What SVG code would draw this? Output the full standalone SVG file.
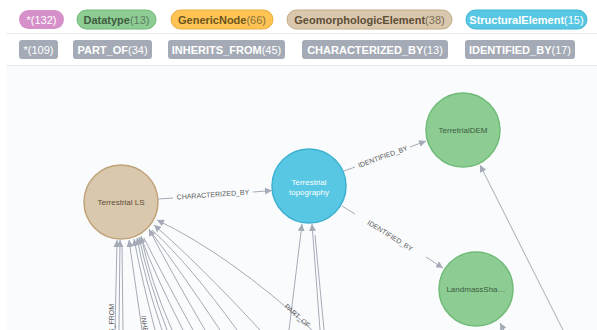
<svg xmlns="http://www.w3.org/2000/svg" width="597" height="330" viewBox="0 0 597 330">
  <defs>
    <marker id="arrow" viewBox="0 0 10 10" refX="10" refY="5" markerWidth="7" markerHeight="7" markerUnits="userSpaceOnUse" orient="auto">
      <path d="M0,0 L10,5 L0,10 z" fill="#a5abb6"/>
    </marker>
    <style>
      .pill-text { font-family: "Liberation Sans", Arial, sans-serif; font-size: 11px; font-weight: bold; }
      .count { font-weight: normal; }
      .rel { fill: #a5abb6; }
      .rel-text { font-family: "Liberation Sans", Arial, sans-serif; font-size: 11px; font-weight: bold; fill: #ffffff; }
      .edge { fill: none; stroke: #a5abb6; stroke-width: 1; }
      .edge-arrow { fill: none; stroke: #a5abb6; stroke-width: 1; marker-end: url(#arrow); }
      .edge-label { font-family: "Liberation Sans", Arial, sans-serif; font-size: 7px; fill: #5a5a5a; }
      .node-label { font-family: "Liberation Sans", Arial, sans-serif; font-size: 8px; text-anchor: middle; }
      .sep { stroke: #e8eaee; stroke-width: 1; }
    </style>
  </defs>

  <!-- page and canvas backgrounds -->
  <rect x="0" y="0" width="597" height="330" fill="#ffffff"/>
  <rect x="6" y="66" width="591" height="264" fill="#f9fbfd"/>
  <line class="sep" x1="6" y1="33.5" x2="597" y2="33.5"/>
  <line class="sep" x1="6" y1="65.5" x2="597" y2="65.5"/>

  <!-- node label legend -->
  <g id="legend-labels">
    <rect x="19" y="10" width="45" height="19" rx="9.5" fill="#d58fc9"/>
    <text class="pill-text" x="41.5" y="23.5" text-anchor="middle" fill="#ffffff"><tspan class="count">*(132)</tspan></text>

    <rect x="77" y="10" width="79" height="19" rx="9.5" fill="#8dcc93" stroke="#6fbb77"/>
    <text class="pill-text" x="116.5" y="23.5" text-anchor="middle" fill="#3d5c40">Datatype<tspan class="count" fill="#5f7d62">(13)</tspan></text>

    <rect x="171" y="10" width="102" height="19" rx="9.5" fill="#ffc454" stroke="#e8ad3f"/>
    <text class="pill-text" x="222" y="23.5" text-anchor="middle" fill="#6b5420">GenericNode<tspan class="count" fill="#86703c">(66)</tspan></text>

    <rect x="287" y="10" width="165" height="19" rx="9.5" fill="#d9c8ae" stroke="#c4ab87"/>
    <text class="pill-text" x="369.5" y="23.5" text-anchor="middle" fill="#5e4e36">GeomorphologicElement<tspan class="count" fill="#7d6c52">(38)</tspan></text>

    <rect x="466" y="10" width="121" height="19" rx="9.5" fill="#57c7e3" stroke="#40b6d4"/>
    <text class="pill-text" x="526.5" y="23.5" text-anchor="middle" fill="#ffffff">StructuralElement<tspan class="count">(15)</tspan></text>
  </g>

  <!-- relationship type legend -->
  <g id="legend-relationships">
    <rect class="rel" x="19" y="40" width="39" height="19" rx="3"/>
    <text class="rel-text" x="38.5" y="53.5" text-anchor="middle"><tspan class="count">*(109)</tspan></text>

    <rect class="rel" x="73" y="40" width="79" height="19" rx="3"/>
    <text class="rel-text" x="112.5" y="53.5" text-anchor="middle">PART_OF<tspan class="count">(34)</tspan></text>

    <rect class="rel" x="168" y="40" width="117" height="19" rx="3"/>
    <text class="rel-text" x="226.5" y="53.5" text-anchor="middle">INHERITS_FROM<tspan class="count">(45)</tspan></text>

    <rect class="rel" x="302" y="40" width="146" height="19" rx="3"/>
    <text class="rel-text" x="375" y="53.5" text-anchor="middle">CHARACTERIZED_BY<tspan class="count">(13)</tspan></text>

    <rect class="rel" x="465" y="40" width="110" height="19" rx="3"/>
    <text class="rel-text" x="520" y="53.5" text-anchor="middle">IDENTIFIED_BY<tspan class="count">(17)</tspan></text>
  </g>

  <!-- relationships -->
  <g id="connectors">
    <!-- Terrestrial LS -> Terrestrial topography -->
    <path class="edge" d="M158,199 L173,198"/>
    <path class="edge-arrow" d="M253,192 L272,190.5"/>
    <text class="edge-label" x="213" y="197" text-anchor="middle" transform="rotate(-4 213 195)">CHARACTERIZED_BY</text>

    <!-- Terrestrial topography -> TerretrialDEM -->
    <path class="edge" d="M344,171 L355,167"/>
    <path class="edge-arrow" d="M410,147 L426,141"/>
    <text class="edge-label" x="383" y="159" text-anchor="middle" transform="rotate(-20 383 157)">IDENTIFIED_BY</text>

    <!-- Terrestrial topography -> LandmassSha... -->
    <path class="edge" d="M342,206 L355,214"/>
    <path class="edge-arrow" d="M426,257 L443,268"/>
    <text class="edge-label" x="390" y="238" text-anchor="middle" transform="rotate(32 390 236)">IDENTIFIED_BY</text>

    <!-- incoming from outside the view -->
    <path class="edge-arrow" d="M563,330 L480,165"/>
    <path class="edge-arrow" d="M507,336 L500,323"/>

    <!-- into Terrestrial topography -->
    <path class="edge-arrow" d="M289,330 L302,224"/>
    <path class="edge-arrow" d="M320,330 L312,224"/>
    <path class="edge" d="M324,330 L315,235"/>

    <!-- into Terrestrial LS -->
    <path class="edge-arrow" d="M115,330 L117,240"/>
    <path class="edge-arrow" d="M119,330 L120,240"/>
    <path class="edge" d="M123,330 L122,245"/>
    <path class="edge-arrow" d="M142,330 L129,240"/>
    <path class="edge-arrow" d="M155,330 Q142,280 134,239"/>
    <path class="edge-arrow" d="M162,330 Q145,280 137,238"/>
    <path class="edge-arrow" d="M167,330 Q148,280 139,237"/>
    <path class="edge-arrow" d="M172,330 Q150,280 141,236"/>
    <path class="edge" d="M183,330 Q155,275 142,240"/>
    <path class="edge" d="M193,330 Q160,270 144,238"/>
    <path class="edge-arrow" d="M205,330 Q170,270 149,229"/>
    <path class="edge" d="M220,330 Q180,270 151,232"/>
    <path class="edge" d="M237,330 Q190,265 152,230"/>
    <path class="edge-arrow" d="M260,330 Q200,265 154,225"/>
    <path class="edge-arrow" d="M312,330 Q230,255 157,220"/>

    <text class="edge-label" x="114" y="304" text-anchor="end" transform="rotate(-90 114 304)">INHERITS_FROM</text>
    <text class="edge-label" x="141" y="316" text-anchor="start" transform="rotate(82 141 316)">INHERITS_FROM</text>
    <text class="edge-label" x="284" y="307" text-anchor="start" transform="rotate(42 284 307)">PART_OF</text>
  </g>

  <!-- nodes -->
  <g id="node-terrestrial-ls">
    <circle cx="121" cy="202" r="37" fill="#d9c8ae" stroke="#c0a378" stroke-width="1.5"/>
    <text class="node-label" x="121" y="205" fill="#5e4e36">Terrestrial LS</text>
  </g>

  <g id="node-terrestrial-topography">
    <circle cx="309" cy="186" r="37" fill="#57c7e3" stroke="#3fb1d0" stroke-width="1.5"/>
    <text class="node-label" x="309" y="185" fill="#ffffff">Terrestrial</text>
    <text class="node-label" x="309" y="195" fill="#ffffff">topography</text>
  </g>

  <g id="node-terretrial-dem">
    <circle cx="463" cy="130" r="37" fill="#8dcc93" stroke="#6fbb77" stroke-width="1.5"/>
    <text class="node-label" x="463" y="133" fill="#3d5c40">TerretrialDEM</text>
  </g>

  <g id="node-landmass">
    <circle cx="476" cy="289" r="37" fill="#8dcc93" stroke="#6fbb77" stroke-width="1.5"/>
    <text class="node-label" x="476" y="292" fill="#3d5c40">LandmassSha…</text>
  </g>
</svg>
